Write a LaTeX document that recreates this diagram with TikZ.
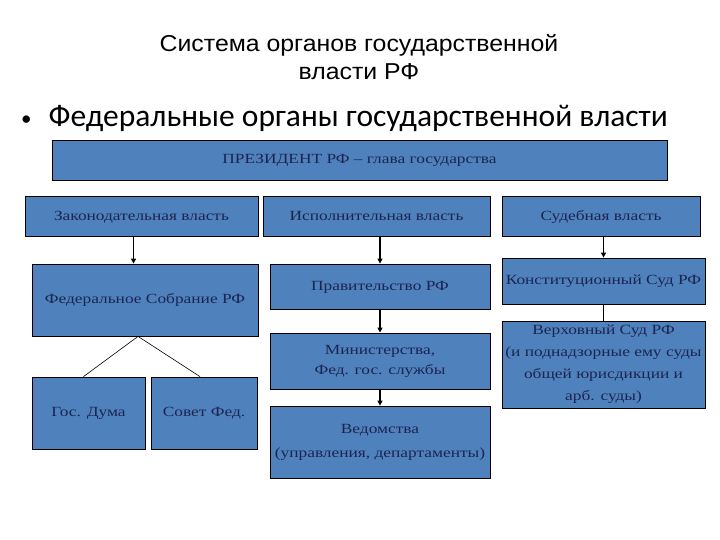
\documentclass[tikz,border=0pt]{standalone}
\usepackage{fontspec}
\setmainfont{Liberation Serif}
\newfontfamily\boxfont[FakeStretch=1.24]{Liberation Serif}
\newfontfamily\titlefont[FakeStretch=1.08]{Liberation Sans}
\newfontfamily\bulletfont{Carlito}
\usepackage{tikz}
\usetikzlibrary{arrows.meta, positioning, calc}
\definecolor{boxblue}{HTML}{4F81BD}
\definecolor{boxtext}{HTML}{1B2550}

\begin{document}
\begin{tikzpicture}[
    x=1pt, y=-1pt,
    >={Triangle[length=5pt, width=5pt]},
    orgbox/.style={
        rectangle, draw=black, line width=0.8pt, fill=boxblue,
        align=center, inner sep=2pt, text=boxtext,
        font=\boxfont\fontsize{14}{20}\selectfont
    },
    oneline/.style={text height=11.5pt, text depth=3.8pt},
    arr/.style={->, line width=1.4pt, black},
    link/.style={line width=0.6pt, black},
]
\useasboundingbox (0,0) rectangle (720,540);

% ── Titles ──
\node[font=\titlefont\fontsize{23}{28}\selectfont, align=center, anchor=base] (title) at (359,80)
    {Система органов государственной\\власти РФ};
\node[font=\bulletfont\fontsize{31.5}{34}\selectfont, anchor=base west, inner sep=0pt] (subtitle) at (21,127)
    {\raisebox{1pt}{\fontsize{21}{21}\selectfont\textbullet}\hspace{17pt}Федеральные органы государственной власти};

% ── President and branches ──
\node[orgbox, oneline, minimum width=615, minimum height=40] (pres) at (359.5,160)
    {ПРЕЗИДЕНТ РФ – глава государства};
\node[orgbox, oneline, minimum width=233, minimum height=40] (leg) at (141.5,216.5) {Законодательная власть};
\node[orgbox, oneline, minimum width=227, minimum height=40] (exe) at (376.5,216.5) {Исполнительная власть};
\node[orgbox, oneline, minimum width=198, minimum height=40] (jud) at (601,216.5) {Судебная власть};

% ── Legislative ──
\node[orgbox, oneline, minimum width=226, minimum height=72] (fedsob) at (145,300) {Федеральное Собрание РФ};
\node[orgbox, oneline, minimum width=113, minimum height=72] (duma) at (88.5,413) {Гос. Дума};
\node[orgbox, oneline, minimum width=106, minimum height=72] (sovfed) at (204,413) {Совет Фед.};

% ── Executive ──
\node[orgbox, oneline, minimum width=220, minimum height=45] (gov) at (380,286.5) {Правительство РФ};
\node[orgbox, minimum width=220, minimum height=56] (mins) at (380,361) {Министерства,\\Фед. гос. службы};
\node[orgbox, minimum width=220, minimum height=72, font=\boxfont\fontsize{14}{24}\selectfont] (agencies) at (380,442)
    {Ведомства\\(управления, департаменты)};

% ── Judicial ──
\node[orgbox, oneline, minimum width=203, minimum height=46] (constcourt) at (603.5,281) {Конституционный Суд РФ};
\node[orgbox, minimum width=203, minimum height=87, font=\boxfont\fontsize{14}{22}\selectfont] (supcourt) at (603.5,364.5)
    {Верховный Суд РФ\\(и поднадзорные ему суды\\общей юрисдикции и\\арб. суды)};

% ── Connectors ──
\draw[arr] ([xshift=-8pt]leg.south) -- ([xshift=-8pt]leg.south |- fedsob.north);
\draw[link] ([xshift=-7pt]fedsob.south) -- ([xshift=-5pt]duma.north);
\draw[link] ([xshift=-7pt]fedsob.south) -- ([xshift=-4pt]sovfed.north);
\draw[arr] (exe.south -| gov) -- (gov.north);
\draw[arr] (gov) -- (mins);
\draw[arr] (mins) -- (agencies);
\draw[arr] (jud.south -| constcourt) -- (constcourt.north);
\draw[link, line width=0.9pt] (constcourt) -- (supcourt);

\end{tikzpicture}
\end{document}
